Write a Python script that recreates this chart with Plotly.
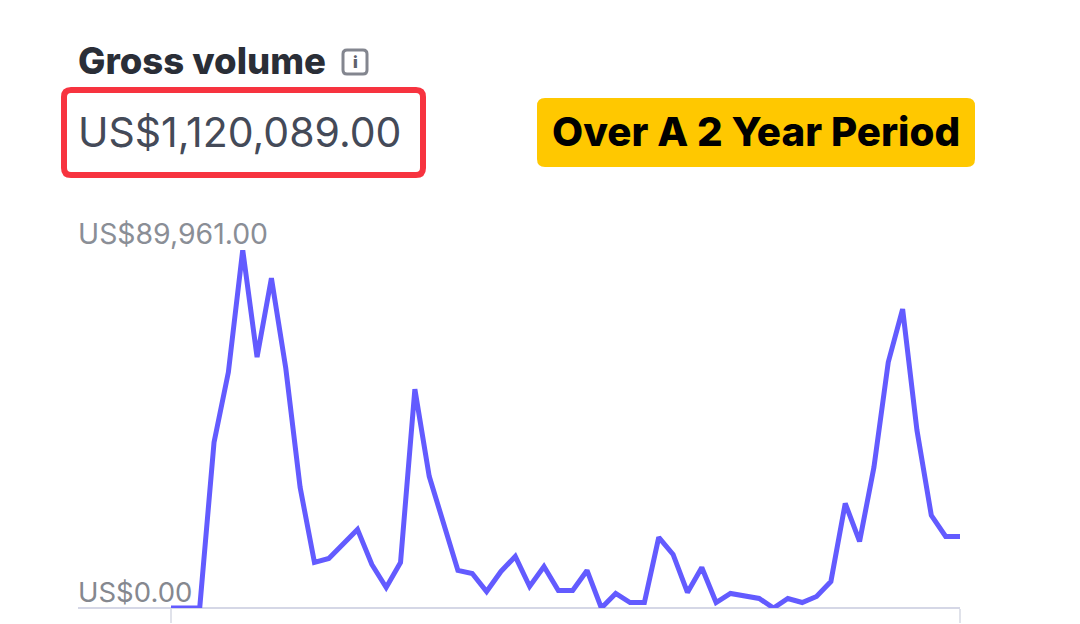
import plotly.graph_objects as go

# Data
gross_volume = [0, 0, 0, 41640, 59250, 89961, 63030, 82900, 60260, 30320, 11450, 12450, 15980, 19750,
                10940, 5160, 11450, 54970, 33090, 21510, 9440, 8680, 4150, 9180, 12960, 5410, 10440, 4400,
                4400, 9440, 0, 3650, 1380, 1380, 17740, 13460, 3900, 10190, 1380, 3650, 2890, 2390,
                0, 2390, 1380, 2890, 6670, 26290, 16730, 35350, 61770, 75100, 44660, 23270, 17990, 17990]
periods = list(range(len(gross_volume)))
tick_positions = [periods[0], periods[-1]]
title_text = "Gross volume"
total_text = "US$1,120,089.00"
badge_text = "Over A 2 Year Period"
max_label = "US$89,961.00"
min_label = "US$0.00"

# The page body adds an 8 px offset, so the figure is 8 px smaller and everything is placed 8 px up/left.
PAGE = 8
W, H = 1080 - PAGE, 624 - PAGE
L, R, T, B = 171 - PAGE, 960 - PAGE, 250 - PAGE, 608 - PAGE

def px(x):
    return (x - PAGE - L) / (R - L)

def py(y):
    return (B - (y - PAGE)) / (B - T)

def round_rect(x0, y0, x1, y1, r):
    X0, X1, Y0, Y1 = px(x0), px(x1), py(y0), py(y1)
    rx, ry = r / (R - L), r / (B - T)
    return (f"M {X0+rx} {Y0} L {X1-rx} {Y0} Q {X1} {Y0} {X1} {Y0-ry} "
            f"L {X1} {Y1+ry} Q {X1} {Y1} {X1-rx} {Y1} "
            f"L {X0+rx} {Y1} Q {X0} {Y1} {X0} {Y1+ry} "
            f"L {X0} {Y0-ry} Q {X0} {Y0} {X0+rx} {Y0} Z")

def label(text, x, y, size, color, family="Inter", weight=400, anchor="left"):
    return dict(text=text, x=px(x), y=py(y), xref="paper", yref="paper", xanchor=anchor, yanchor="middle",
                showarrow=False, font=dict(family=family, size=size, color=color, weight=weight))

fig = go.Figure(go.Scatter(x=periods, y=gross_volume, mode="lines", cliponaxis=False,
                           line=dict(color="#635bff", width=5, shape="linear"), hoverinfo="skip"))

fig.update_layout(
    width=W, height=H, autosize=False,
    margin=dict(l=L, r=W - R, t=T, b=H - B, pad=0),
    paper_bgcolor="white", plot_bgcolor="white", showlegend=False,
    xaxis=dict(range=[periods[0], periods[-1]], showgrid=False, zeroline=False, showline=False, automargin=False,
               tickmode="array", tickvals=tick_positions, ticktext=["", ""],
               ticks="outside", ticklen=14, tickwidth=2, tickcolor="#e0e2ea"),
    yaxis=dict(range=[0, max(gross_volume)], visible=False, automargin=False),
    shapes=[
        dict(type="line", xref="paper", yref="paper", x0=px(78), x1=px(960), y0=0, y1=0,
             line=dict(color="#d5d7e6", width=2), layer="below"),
        dict(type="path", xref="paper", yref="paper", path=round_rect(64, 90, 423, 175, 7),
             line=dict(color="#f7333f", width=6), fillcolor="rgba(0,0,0,0)"),
        dict(type="path", xref="paper", yref="paper", path=round_rect(537, 98, 975, 167, 8),
             line=dict(width=0), fillcolor="#ffc800", layer="below"),
        dict(type="path", xref="paper", yref="paper", path=round_rect(343, 50, 367, 74, 4),
             line=dict(color="#83868f", width=3), fillcolor="white"),
    ],
    annotations=[
        label(title_text, 75.5, 61, 36.5, "#2a2e37", weight=800),
        label("i", 355, 62, 16, "#5f626c", weight=900, anchor="center"),
        label(total_text, 75.5, 132, 41, "#444a58"),
        label(badge_text, 756, 132, 40.3, "#000000", family="Inter", weight=800, anchor="center"),
        label(max_label, 75.5, 233, 28.4, "#8a8e96"),
        label(min_label, 75.5, 592, 27.5, "#85888f"),
    ],
)

fig.write_html("out.html", config=dict(displayModeBar=False))
